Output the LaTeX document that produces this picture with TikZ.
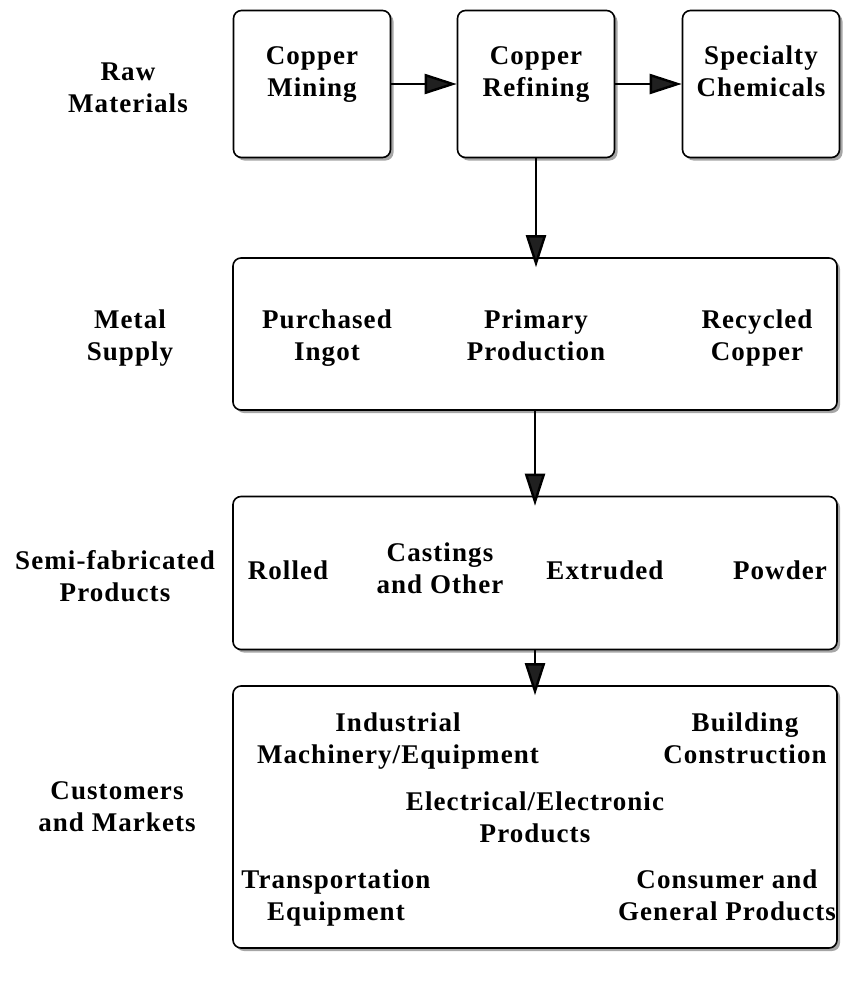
\documentclass[tikz,border=0pt]{standalone}
\usepackage{fontspec}
\setmainfont{Liberation Serif}[LetterSpace=4]
\usetikzlibrary{arrows.meta,shadows}

\begin{document}
\begin{tikzpicture}[x=1pt,y=-1pt,
   stage/.style={draw,line width=1.6pt,rounded corners=8pt,fill=white,
      drop shadow={shadow xshift=3pt,shadow yshift=-3pt,fill=gray!70,opacity=1}},
   lbl/.style={align=center,font=\fontsize{27}{32}\selectfont\bfseries,yshift=-4pt,
      execute at begin node=\strut,execute at end node=\strut},
   flow/.style={line width=2.4pt,-{Triangle[length=32pt,width=20pt,fill=gray!25!black]}}]
   \useasboundingbox (0,0) rectangle (848,983);

   % stage boxes
   \node[stage,minimum width=157pt,minimum height=147pt] (mining) at (312,84) {};
   \node[stage,minimum width=157pt,minimum height=147pt] (refining) at (536,84) {};
   \node[stage,minimum width=157pt,minimum height=147pt] (chemicals) at (761,84) {};
   \node[stage,minimum width=604pt,minimum height=152pt] (supply) at (535,334) {};
   \node[stage,minimum width=604pt,minimum height=153pt] (semi) at (535,573) {};
   \node[stage,minimum width=604pt,minimum height=262pt] (markets) at (535,817) {};

   % row labels
   \node[lbl] (rawlbl) at (128,88) {Raw\\Materials};
   \node[lbl] (supplylbl) at (130,336) {Metal\\Supply};
   \node[lbl] (semilbl) at (115,577) {Semi-fabricated\\Products};
   \node[lbl] (marketlbl) at (117,807) {Customers\\and Markets};

   % box texts
   \node[lbl] (mintxt) at (312,72) {Copper\\Mining};
   \node[lbl] (reftxt) at (536,72) {Copper\\Refining};
   \node[lbl] (chemtxt) at (761,72) {Specialty\\Chemicals};

   \node[lbl] (ingot) at (327,336) {Purchased\\Ingot};
   \node[lbl] (primary) at (536,336) {Primary\\Production};
   \node[lbl] (recycled) at (757,336) {Recycled\\Copper};

   \node[lbl] (rolled) at (288,569) {Rolled};
   \node[lbl] (castings) at (440,569) {Castings\\and Other};
   \node[lbl] (extruded) at (605,569) {Extruded};
   \node[lbl] (powder) at (780,569) {Powder};

   \node[lbl] (machinery) at (398,739) {Industrial\\Machinery/Equipment};
   \node[lbl] (building) at (745,739) {Building\\Construction};
   \node[lbl] (electrical) at (535,818) {Electrical/Electronic\\Products};
   \node[lbl] (transport) at (336,896) {Transportation\\Equipment};
   \node[lbl] (consumer) at (727,896) {Consumer and\\General Products};

   % flows
   \draw[flow] (mining.east) -- (refining.west);
   \draw[flow] (refining.east) -- (chemicals.west);
   \draw[flow] (refining.south) -- ([yshift=-10pt]refining.south |- supply.north);
   \draw[flow] (supply.south) -- ([yshift=-10pt]semi.north);
   \draw[flow] (semi.south) -- ([yshift=-10pt]markets.north);
\end{tikzpicture}
\end{document}
